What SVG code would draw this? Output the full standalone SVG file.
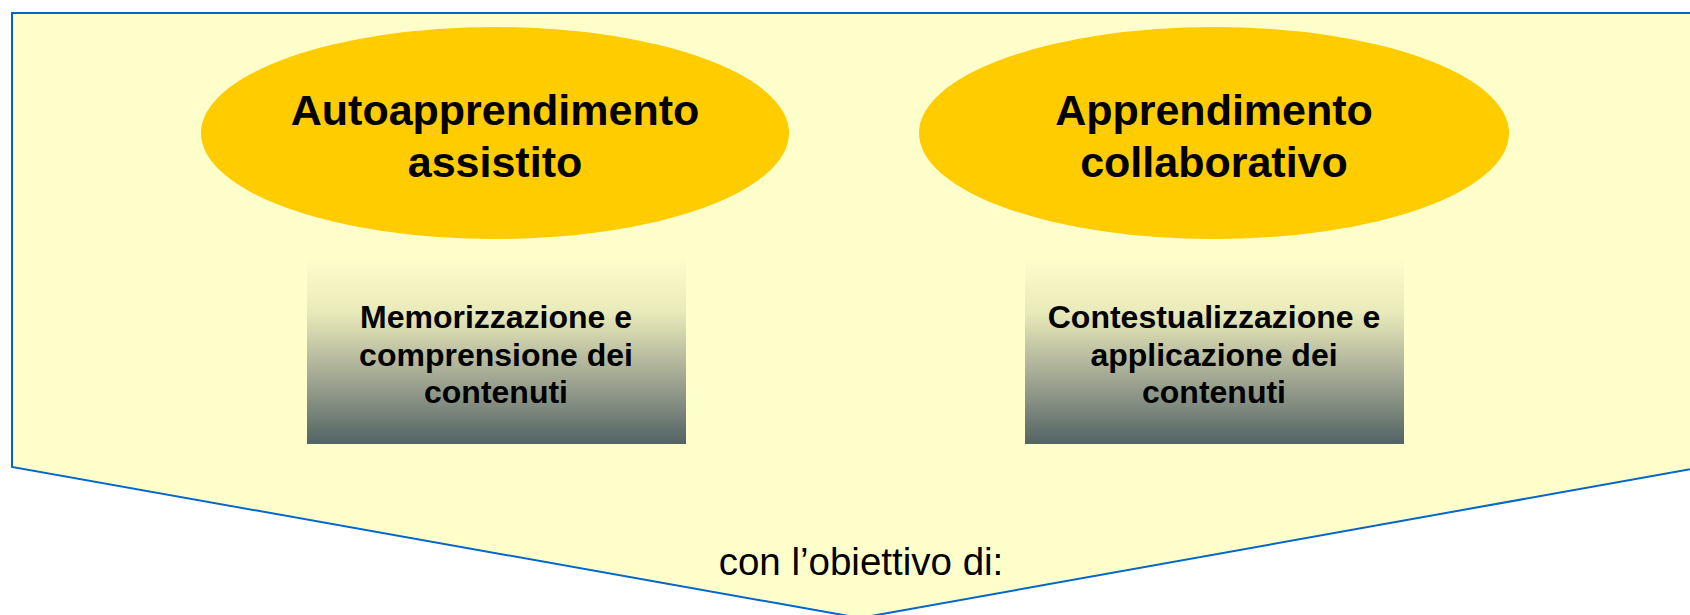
<svg xmlns="http://www.w3.org/2000/svg" width="1690" height="615" viewBox="0 0 1690 615">
  <defs>
    <linearGradient id="boxGrad" x1="0" y1="0" x2="0" y2="1">
      <stop offset="0" stop-color="#FFFFCC"/>
      <stop offset="0.3" stop-color="#E9EAB9"/>
      <stop offset="0.65" stop-color="#A2A793"/>
      <stop offset="1" stop-color="#526363"/>
    </linearGradient>
    <style>
      .frame { fill: #FFFFCC; stroke: #0066CC; stroke-width: 2; }
      .oval { fill: #FFCC00; }
      .box { fill: url(#boxGrad); }
      .t-oval { font-family: "Liberation Sans", Arial, sans-serif; font-weight: bold; font-size: 43px; fill: #000; text-anchor: middle; }
      .t-box { font-family: "Liberation Sans", Arial, sans-serif; font-weight: bold; font-size: 32px; fill: #000; text-anchor: middle; }
      .t-plain { font-family: "Liberation Sans", Arial, sans-serif; font-size: 38.5px; fill: #000; text-anchor: middle; }
    </style>
  </defs>
  <rect width="1690" height="615" fill="#FFFFFF"/>
  <g id="frame">
    <path class="frame" d="M12,13 L1708,13 L1708,466 L860,618 L12,467 Z"/>
  </g>
  <g id="connectors"></g>
  <g id="node-autoapprendimento">
    <ellipse class="oval" cx="495" cy="133" rx="294" ry="106"/>
    <text class="t-oval" x="495" y="125">Autoapprendimento</text>
    <text class="t-oval" x="495" y="177">assistito</text>
  </g>
  <g id="node-apprendimento">
    <ellipse class="oval" cx="1214" cy="133" rx="295" ry="106"/>
    <text class="t-oval" x="1214" y="125">Apprendimento</text>
    <text class="t-oval" x="1214" y="177">collaborativo</text>
  </g>
  <g id="node-memorizzazione">
    <rect class="box" x="307" y="256" width="379" height="188"/>
    <text class="t-box" x="496" y="328">Memorizzazione e</text>
    <text class="t-box" x="496" y="366">comprensione dei</text>
    <text class="t-box" x="496" y="403">contenuti</text>
  </g>
  <g id="node-contestualizzazione">
    <rect class="box" x="1025" y="256" width="379" height="188"/>
    <text class="t-box" x="1214" y="328">Contestualizzazione e</text>
    <text class="t-box" x="1214" y="366">applicazione dei</text>
    <text class="t-box" x="1214" y="403">contenuti</text>
  </g>
  <g id="label-obiettivo">
    <text class="t-plain" x="861" y="575">con l’obiettivo di:</text>
  </g>
</svg>
